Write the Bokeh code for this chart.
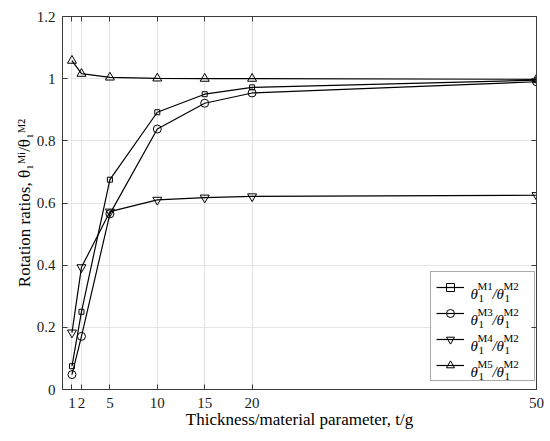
from bokeh.plotting import figure
from bokeh.models import Range1d, FixedTicker, LinearAxis, Legend, LegendItem
from bokeh.core.properties import value
from bokeh.embed import file_html
from bokeh.resources import INLINE

# ---- data ----
t_over_g = [1, 2, 5, 10, 15, 20, 50]
ratio_m1 = [0.075, 0.250, 0.675, 0.892, 0.950, 0.972, 0.995]
ratio_m3 = [0.048, 0.171, 0.565, 0.838, 0.921, 0.954, 0.990]
ratio_m4 = [0.183, 0.393, 0.572, 0.610, 0.617, 0.621, 0.625]
ratio_m5 = [1.058, 1.016, 1.004, 1.001, 1.000, 1.000, 0.998]
x_ticks = [1, 2, 5, 10, 15, 20, 50]
y_ticks = [0, 0.2, 0.4, 0.6, 0.8, 1.0, 1.2]
y_tick_labels = ["0", "0.2", "0.4", "0.6", "0.8", "1", "1.2"]
series_sup = ["M1", "M3", "M4", "M5"]
x_label = "Thickness/material parameter, t/g"
y_label = "Rotation ratios, \u03b8\u2081\u1d39\u2071/\u03b8\u2081\u1d39\u00b2"

FONT = "Liberation Serif"
AX = "#3a3a3a"
GRID = "#e4e4e4"
X0, X1, Y0, Y1 = 0, 50, 0, 1.2
W, H, BL, BR, BT, BB = 550, 441, 62, 14, 16, 52

p = figure(width=W, height=H, output_backend="svg", toolbar_location=None,
           x_range=Range1d(X0, X1), y_range=Range1d(Y0, Y1),
           min_border_left=BL, min_border_right=BR, min_border_top=BT, min_border_bottom=BB)
p.outline_line_color = AX
p.outline_line_width = 1
p.background_fill_color = "white"

xt = FixedTicker(ticks=x_ticks)
yt = FixedTicker(ticks=y_ticks)
p.xaxis.ticker = xt
p.yaxis.ticker = yt
p.xgrid.ticker = xt
p.ygrid.ticker = yt
p.yaxis.major_label_overrides = {v: s for v, s in zip(y_ticks, y_tick_labels)}
for ax in (p.xaxis[0], p.yaxis[0]):
    ax.major_label_text_font = FONT
    ax.major_label_text_font_size = "15px"
    ax.major_label_text_color = "#1a1a1a"
    ax.axis_line_color = AX
    ax.major_tick_line_color = AX
    ax.major_tick_in = 5
    ax.major_tick_out = 0
    ax.minor_tick_line_color = None
    ax.axis_label_text_font = FONT
    ax.axis_label_text_font_size = "17px"
    ax.axis_label_text_font_style = "normal"
    ax.axis_label_text_color = "black"
p.xaxis.major_label_standoff = 8
p.yaxis.major_label_standoff = 7
p.xaxis.axis_label = x_label
p.yaxis.axis_label = y_label
p.xaxis.axis_label_standoff = -1
p.yaxis.axis_label_standoff = 0
p.xgrid.grid_line_color = GRID
p.ygrid.grid_line_color = GRID

# box ticks on top and right
top_ax = LinearAxis(ticker=xt, major_label_overrides={v: "" for v in x_ticks},
                    major_label_text_font_size="0px", major_label_standoff=0,
                    major_tick_in=5, major_tick_out=0, axis_line_color=AX,
                    major_tick_line_color=AX, minor_tick_line_color=None)
right_ax = LinearAxis(ticker=yt, major_label_overrides={v: "" for v in y_ticks},
                      major_label_text_font_size="0px", major_label_standoff=0,
                      major_tick_in=5, major_tick_out=0, axis_line_color=AX,
                      major_tick_line_color=AX, minor_tick_line_color=None)
p.add_layout(top_ax, "above")
p.add_layout(right_ax, "right")

# legend geometry (px)
PAD, SPACING, ITEM_H, GLYPH_W, STANDOFF, LABEL_W = 5, 6, 20, 28, 5, 60
LEG_X, LEG_Y = 368, 8
n = len(series_sup)
leg_h = 2 * PAD + n * ITEM_H + (n - 1) * SPACING
leg_w = 2 * PAD + GLYPH_W + STANDOFF + LABEL_W
FW, FH = W - BL - BR, H - BT - BB
def dx(px): return X0 + px * (X1 - X0) / FW
def dy(px): return Y0 + px * (Y1 - Y0) / FH

# opaque white legend background (hides the grid behind the legend box)
p.quad(left=[dx(LEG_X)], right=[dx(LEG_X + leg_w)], bottom=[dy(LEG_Y)],
       top=[dy(LEG_Y + leg_h)], fill_color="white", line_color=None)

series = [
    (ratio_m1, "square", 5),
    (ratio_m3, "circle", 8),
    (ratio_m4, "inverted_triangle", 9),
    (ratio_m5, "triangle", 9),
]
items = []
for ys, marker, size in series:
    rl = p.line(t_over_g, ys, line_color="black", line_width=1.2)
    rm = p.scatter(t_over_g, ys, marker=marker, size=size, line_color="black",
                   fill_color=None, line_width=1)
    items.append(LegendItem(label=" ", renderers=[rl, rm]))

legend = Legend(items=items, location=(LEG_X, LEG_Y), padding=PAD, spacing=SPACING,
                glyph_width=GLYPH_W, glyph_height=ITEM_H, label_height=ITEM_H,
                label_width=LABEL_W, label_standoff=STANDOFF, margin=0,
                label_text_font_size="10px",
                border_line_color="#555555", border_line_width=1,
                background_fill_alpha=0)
p.add_layout(legend, "center")

# legend math text, placed by pixel offsets inside the legend box
big_x, big_y, big_t = [], [], []
small_x, small_y, small_t = [], [], []
for k, sup in enumerate(series_sup):
    yc = LEG_Y + leg_h - PAD - ITEM_H / 2 - k * (ITEM_H + SPACING)  # row centre, y up
    x0 = LEG_X + 40
    for off, t in ((0, "\u03b8"), (22, "/"), (26, "\u03b8")):
        big_x.append(dx(x0 + off)); big_y.append(dy(yc - 5)); big_t.append(t)
    for off, t, shift in ((7, sup, 3), (8, "1", -10), (33, "M2", 3), (34, "1", -10)):
        small_x.append(dx(x0 + off)); small_y.append(dy(yc + shift)); small_t.append(t)

p.text(big_x, big_y, text=big_t, text_font=value(FONT), text_font_size=value("15px"),
       text_font_style="italic", text_baseline="alphabetic", text_align="left",
       text_color="black")
p.text(small_x, small_y, text=small_t, text_font=value(FONT), text_font_size=value("11px"),
       text_font_style="normal", text_baseline="alphabetic", text_align="left",
       text_color="black")

open("out.html", "w").write(file_html(p, INLINE))
